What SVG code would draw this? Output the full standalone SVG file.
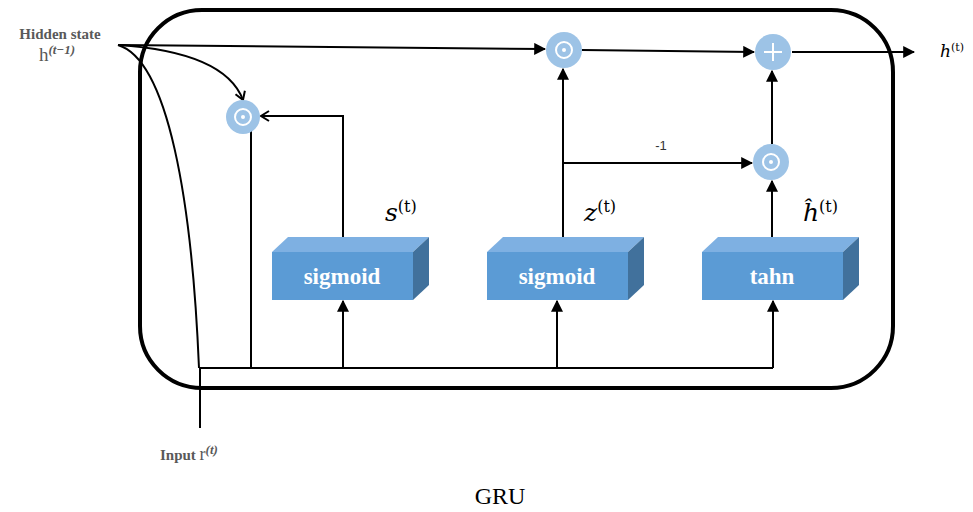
<svg xmlns="http://www.w3.org/2000/svg" width="973" height="512" viewBox="0 0 973 512">
<defs>
<style>
.ln{fill:none;stroke:#000;stroke-width:2}
.op{fill:#9DC3E6}
.sym{fill:none;stroke:#fff;stroke-width:2}
.front{fill:#5B9BD5}
.top{fill:#7EB0E2}
.side{fill:#41719C}
.bt{font-family:"Liberation Serif",serif;font-weight:bold;font-size:23px;fill:#fff;text-anchor:middle}
.lbl{font-family:"Liberation Serif",serif;font-weight:bold;font-size:15px;fill:#595959}
.math{font-family:"DejaVu Serif","Liberation Serif",serif;font-style:italic;fill:#000}
</style>
<marker id="ah2" viewBox="0 0 10 10" refX="9" refY="5" markerWidth="6" markerHeight="6" orient="auto">
<path d="M0,0 L10,5 L0,10 z" fill="#000"/>
</marker>
<marker id="av" viewBox="0 0 12 12" refX="10" refY="6" markerWidth="12" markerHeight="12" orient="auto" markerUnits="userSpaceOnUse">
<path d="M2,1 L10,6 L2,11" fill="none" stroke="#000" stroke-width="2"/>
</marker>
</defs>

<g id="cell">
<rect x="140" y="10" width="753" height="378" rx="62" ry="62" fill="none" stroke="#000" stroke-width="4"/>
</g>

<g id="connectors">
<path class="ln" d="M118,45 L545,49" marker-end="url(#ah2)"/>
<path class="ln" d="M118,45 Q225,52 243,100" marker-end="url(#av)"/>
<path class="ln" d="M118,45 C168,60 192,200 199,368"/>
<path class="ln" d="M200,428 L200,368 L773,368"/>
<path class="ln" d="M251,130 L251,368"/>
<path class="ln" d="M343,237 L343,116 L261,116" marker-end="url(#av)"/>
<path class="ln" d="M343,368 L343,301" marker-end="url(#ah2)"/>
<path class="ln" d="M557,368 L557,301" marker-end="url(#ah2)"/>
<path class="ln" d="M773,368 L773,301" marker-end="url(#ah2)"/>
<path class="ln" d="M563,237 L563,69" marker-end="url(#ah2)"/>
<path class="ln" d="M563,163 L752,163" marker-end="url(#ah2)"/>
<path class="ln" d="M772,237 L772,181" marker-end="url(#ah2)"/>
<path class="ln" d="M772,144 L772,71" marker-end="url(#ah2)"/>
<path class="ln" d="M582,50 L754,52" marker-end="url(#ah2)"/>
<path class="ln" d="M792,52 L914,52" marker-end="url(#ah2)"/>
</g>

<g id="mul1">
<circle class="op" cx="243" cy="117" r="17"/>
<circle class="sym" cx="243" cy="117" r="8"/>
<circle cx="243" cy="117" r="2" fill="#fff"/>
</g>
<g id="mul2">
<circle class="op" cx="564" cy="50" r="18"/>
<circle class="sym" cx="564" cy="50" r="8"/>
<circle cx="564" cy="50" r="2" fill="#fff"/>
</g>
<g id="add">
<circle class="op" cx="773" cy="52" r="18"/>
<path class="sym" d="M773,43 L773,61 M764,52 L782,52"/>
</g>
<g id="mul3">
<circle class="op" cx="771" cy="162" r="18"/>
<circle class="sym" cx="771" cy="162" r="8"/>
<circle cx="771" cy="162" r="2" fill="#fff"/>
</g>

<g id="sig1">
<polygon class="top" points="272,252 288,237 429,237 413,252"/>
<polygon class="side" points="413,252 429,237 429,285 413,300"/>
<rect class="front" x="272" y="252" width="141" height="48"/>
<text class="bt" x="342" y="284">sigmoid</text>
</g>
<g id="sig2">
<polygon class="top" points="487,252 503,237 644,237 628,252"/>
<polygon class="side" points="628,252 644,237 644,285 628,300"/>
<rect class="front" x="487" y="252" width="141" height="48"/>
<text class="bt" x="557" y="284">sigmoid</text>
</g>
<g id="tanh">
<polygon class="top" points="702,252 718,237 859,237 843,252"/>
<polygon class="side" points="843,252 859,237 859,285 843,300"/>
<rect class="front" x="702" y="252" width="141" height="48"/>
<text class="bt" x="772" y="284">tahn</text>
</g>

<g id="labels">
<text class="lbl" x="60" y="39" text-anchor="middle">Hidden state</text>
<text x="57" y="61" text-anchor="middle" font-family="Liberation Serif,serif" font-size="19" fill="#595959">h<tspan dy="-7" font-size="13" font-weight="bold" font-style="italic">(t−1)</tspan></text>
<text class="lbl" x="160" y="460">Input <tspan font-weight="normal" font-size="18">r</tspan><tspan dy="-6" font-size="13" font-style="italic">(t)</tspan></text>
<text x="940" y="57" class="math" font-size="17">h<tspan dy="-6" font-size="11" font-style="normal">(t)</tspan></text>
<text x="385" y="221" class="math" font-size="25">s<tspan dy="-9" font-size="16" font-style="normal">(t)</tspan></text>
<text x="584" y="221" class="math" font-size="25">z<tspan dy="-9" font-size="16" font-style="normal">(t)</tspan></text>
<text x="803" y="221" class="math" font-size="25">ĥ<tspan dy="-9" font-size="16" font-style="normal">(t)</tspan></text>
<text x="661" y="150" text-anchor="middle" font-family="Liberation Sans,sans-serif" font-size="13" fill="#333">-1</text>
<text x="500" y="504" text-anchor="middle" font-family="Liberation Serif,serif" font-size="24" fill="#000">GRU</text>
</g>
</svg>
